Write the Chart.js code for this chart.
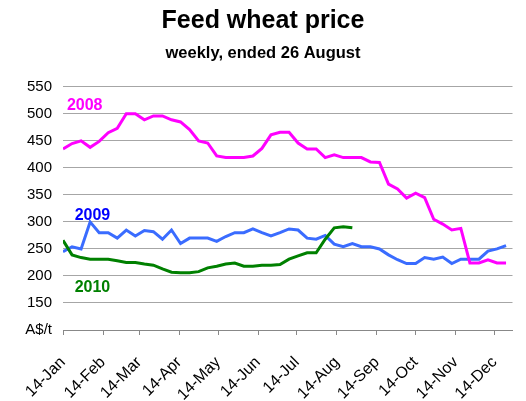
<!DOCTYPE html>
<html>
<head>
<meta charset="utf-8">
<script src="https://cdn.jsdelivr.net/npm/chart.js@4.4.1/dist/chart.umd.min.js"></script>
<style>
  html, body { margin: 0; padding: 0; background: #fff; }
  #wrap { width: 526px; height: 401px; }
</style>
</head>
<body>
<div id="wrap"><canvas id="c" width="526" height="401"></canvas></div>
<script>
// weekly prices, A$/t, first week = 14 Jan
const y2008 = [435,445,450,438,449,465,473,500,500,489,496,496,489,485,471,450,446,422,419,419,
               419,422,436,461,466,466,446,435,435,419,424,419,419,419,411,410,370,361,344,353,
               345,305,296,285,288,224,224,230,224,224]
const y2009 = [245,254,250,300,280,280,270,285,274,284,282,268,285,260,270,270,270,264,273,280,
               280,287,280,274,280,287,285,270,268,275,259,254,260,254,254,250,239,230,223,223,
               234,231,235,223,231,231,231,246,250,256]
const y2010 = [266,239,234,231,231,231,228,225,225,222,220,213,207,206,206,208,215,218,222,224,
               218,218,220,220,221,231,237,243,243,268,289,291,289]
const months = ['Jan','Feb','Mar','Apr','May','Jun','Jul','Aug','Sep','Oct','Nov','Dec']
const yTicks = [100,150,200,250,300,350,400,450,500,550]

// days since 14 Jan
const DAY = 864e5
const base = Date.UTC(2009, 0, 14)
const monthDays = months.map((_, i) => (Date.UTC(2009, i, 14) - base) / DAY)
const weekly = arr => arr.map((v, i) => ({ x: i * 7, y: v }))

const FONT = "'Liberation Sans', Arial, sans-serif"

const seriesLabels = {
  id: 'seriesLabels',
  afterDatasetsDraw(chart) {
    const { ctx, scales: { x, y } } = chart
    const items = [
      { t: '2008', d: 3, v: 515, c: '#ff00ff' },
      { t: '2009', d: 9, v: 312, c: '#0000ff' },
      { t: '2010', d: 9, v: 179, c: '#008000' }
    ]
    ctx.save()
    ctx.font = 'bold 16px ' + FONT
    ctx.textAlign = 'left'
    ctx.textBaseline = 'middle'
    items.forEach(it => {
      ctx.fillStyle = it.c
      ctx.fillText(it.t, x.getPixelForValue(it.d), y.getPixelForValue(it.v))
    })
    ctx.restore()
  }
}

const line = (label, data, color) => ({
  label, data: weekly(data), borderColor: color, backgroundColor: color,
  borderWidth: 3, pointRadius: 0, tension: 0, fill: false
})

new Chart(document.getElementById('c'), {
  type: 'line',
  data: {
    datasets: [
      line('2010', y2010, '#008000'),
      line('2008', y2008, '#ff00ff'),
      line('2009', y2009, '#3a6cff')
    ]
  },
  options: {
    responsive: false,
    animation: false,
    layout: { padding: { left: 0, right: 0, top: 0, bottom: 0 } },
    plugins: {
      legend: { display: false },
      tooltip: { enabled: false },
      title: {
        display: true, text: 'Feed wheat price', color: '#000',
        font: { family: FONT, size: 25, weight: 'bold' },
        padding: { top: 6, bottom: 0 }
      },
      subtitle: {
        display: true, text: 'weekly, ended 26 August', color: '#000',
        font: { family: FONT, size: 16.5, weight: 'bold' },
        padding: { top: 8, bottom: 23 }
      }
    },
    scales: {
      x: {
        type: 'linear', min: 0, max: 348,
        afterBuildTicks: s => { s.ticks = monthDays.map(v => ({ value: v })) },
        afterFit: s => { s.height = 71 },
        grid: { drawOnChartArea: false, drawTicks: true, tickLength: 5, color: '#888' },
        border: { display: true, color: '#888', width: 1 },
        ticks: {
          autoSkip: false, minRotation: 45, maxRotation: 45, padding: 18, color: '#000',
          font: { family: FONT, size: 16 },
          callback: v => '14-' + months[monthDays.indexOf(v)]
        }
      },
      y: {
        min: 100, max: 550,
        afterBuildTicks: s => { s.ticks = yTicks.map(v => ({ value: v })) },
        afterFit: s => { s.width = 63 },
        grid: { drawTicks: false, color: '#a6a6a6', lineWidth: 1 },
        border: { display: false },
        ticks: {
          padding: 11, color: '#000',
          font: { family: FONT, size: 15 },
          callback: v => v === 100 ? 'A$/t' : v
        }
      }
    }
  },
  plugins: [seriesLabels]
})
</script>
</body>
</html>
